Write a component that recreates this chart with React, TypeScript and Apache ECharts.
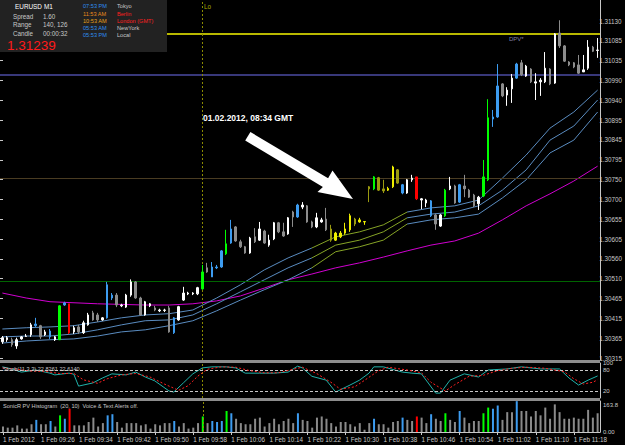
import React, { useEffect, useRef } from "react";
import * as echarts from "echarts";

const FONT = "'Liberation Sans', Arial, sans-serif";

const times = [
  "09:18","09:19","09:20","09:21","09:22","09:23","09:24","09:25","09:26","09:27","09:28","09:29","09:30","09:31","09:32","09:33","09:34","09:35","09:36","09:37","09:38","09:39","09:40","09:41","09:42","09:43","09:44","09:45","09:46","09:47","09:48","09:49","09:50","09:51","09:52","09:53","09:54","09:55","09:56","09:57","09:58","09:59",
  "10:00","10:01","10:02","10:03","10:04","10:05","10:06","10:07","10:08","10:09","10:10","10:11","10:12","10:13","10:14","10:15","10:16","10:17","10:18","10:19","10:20","10:21","10:22","10:23","10:24","10:25","10:26","10:27","10:28","10:29","10:30","10:31","10:32","10:33","10:34","10:35","10:36","10:37","10:38","10:39","10:40","10:41","10:42","10:43","10:44","10:45","10:46","10:47","10:48","10:49","10:50","10:51","10:52","10:53","10:54","10:55","10:56","10:57","10:58","10:59",
  "11:00","11:01","11:02","11:03","11:04","11:05","11:06","11:07","11:08","11:09","11:10","11:11","11:12","11:13","11:14","11:15","11:16","11:17","11:18","11:19","11:20","11:21","11:22","11:23"
];

// [open, close, low, high]
const candles = [
  [1.30354,1.30364,1.30349,1.30368],[1.30359,1.30364,1.30354,1.30368],[1.30359,1.30347,1.30342,1.30364],[1.30344,1.30359,1.30337,1.30364],
  [1.30361,1.30366,1.30359,1.30368],[1.30367,1.30368,1.30366,1.30373],[1.30371,1.30395,1.30366,1.30400],[1.30393,1.30397,1.30390,1.30412],
  [1.30393,1.30366,1.30361,1.30395],[1.30371,1.30378,1.30368,1.30383],[1.30380,1.30366,1.30361,1.30385],[1.30359,1.30366,1.30356,1.30368],
  [1.30359,1.30441,1.30359,1.30443],[1.30443,1.30448,1.30441,1.30451],[1.30446,1.30376,1.30373,1.30446],[1.30378,1.30388,1.30373,1.30393],
  [1.30390,1.30378,1.30373,1.30395],[1.30376,1.30400,1.30373,1.30405],[1.30395,1.30419,1.30393,1.30424],[1.30424,1.30407,1.30405,1.30429],
  [1.30419,1.30407,1.30402,1.30424],[1.30407,1.30412,1.30405,1.30414],[1.30412,1.30492,1.30410,1.30499],[1.30460,1.30467,1.30455,1.30472],
  [1.30467,1.30443,1.30438,1.30472],[1.30441,1.30443,1.30438,1.30446],[1.30438,1.30467,1.30436,1.30470],[1.30467,1.30499,1.30463,1.30505],
  [1.30499,1.30460,1.30458,1.30501],[1.30460,1.30419,1.30417,1.30463],[1.30419,1.30451,1.30417,1.30453],[1.30441,1.30446,1.30438,1.30448],
  [1.30436,1.30431,1.30428,1.30441],[1.30431,1.30429,1.30426,1.30434],[1.30430,1.30431,1.30426,1.30434],[1.30436,1.30378,1.30376,1.30441],
  [1.30376,1.30412,1.30373,1.30414],[1.30407,1.30439,1.30405,1.30441],[1.30455,1.30472,1.30453,1.30487],[1.30472,1.30470,1.30467,1.30475],
  [1.30470,1.30472,1.30467,1.30474],[1.30470,1.30485,1.30467,1.30487],[1.30482,1.30523,1.30480,1.30540],[1.30533,1.30523,1.30521,1.30545],
  [1.30511,1.30535,1.30511,1.30547],[1.30533,1.30535,1.30530,1.30540],[1.30535,1.30574,1.30533,1.30576],[1.30567,1.30591,1.30564,1.30625],
  [1.30593,1.30627,1.30591,1.30649],[1.30632,1.30598,1.30596,1.30634],[1.30596,1.30584,1.30581,1.30601],[1.30584,1.30569,1.30567,1.30586],
  [1.30569,1.30605,1.30567,1.30608],[1.30608,1.30596,1.30593,1.30629],[1.30600,1.30627,1.30598,1.30644],[1.30622,1.30593,1.30591,1.30625],
  [1.30588,1.30600,1.30584,1.30613],[1.30603,1.30642,1.30600,1.30644],[1.30642,1.30620,1.30617,1.30644],[1.30620,1.30610,1.30608,1.30642],
  [1.30615,1.30654,1.30613,1.30656],[1.30668,1.30656,1.30632,1.30671],[1.30656,1.30685,1.30654,1.30688],[1.30680,1.30685,1.30675,1.30692],
  [1.30683,1.30644,1.30642,1.30685],[1.30644,1.30632,1.30629,1.30647],[1.30632,1.30654,1.30629,1.30666],[1.30644,1.30649,1.30642,1.30654],
  [1.30651,1.30625,1.30622,1.30678],[1.30627,1.30600,1.30596,1.30637],[1.30600,1.30617,1.30598,1.30620],[1.30608,1.30617,1.30605,1.30622],
  [1.30617,1.30627,1.30613,1.30642],[1.30625,1.30659,1.30620,1.30664],[1.30651,1.30639,1.30634,1.30654],[1.30644,1.30649,1.30642,1.30654],
  [1.30644,1.30645,1.30637,1.30645],[1.30729,1.30724,1.30692,1.30731],[1.30724,1.30753,1.30721,1.30755],[1.30751,1.30721,1.30719,1.30753],
  [1.30724,1.30719,1.30714,1.30746],[1.30721,1.30725,1.30719,1.30729],[1.30729,1.30777,1.30726,1.30780],[1.30770,1.30738,1.30736,1.30772],
  [1.30734,1.30714,1.30711,1.30736],[1.30714,1.30746,1.30712,1.30748],[1.30746,1.30750,1.30741,1.30758],[1.30753,1.30700,1.30697,1.30753],
  [1.30700,1.30697,1.30675,1.30702],[1.30690,1.30697,1.30680,1.30700],[1.30695,1.30659,1.30656,1.30697],[1.30661,1.30639,1.30625,1.30664],
  [1.30634,1.30661,1.30632,1.30663],[1.30659,1.30721,1.30656,1.30724],[1.30724,1.30731,1.30721,1.30753],[1.30731,1.30690,1.30688,1.30734],
  [1.30692,1.30734,1.30690,1.30736],[1.30731,1.30724,1.30704,1.30758],[1.30721,1.30704,1.30702,1.30724],[1.30709,1.30683,1.30680,1.30712],
  [1.30688,1.30704,1.30673,1.30707],[1.30707,1.30753,1.30704,1.30794],[1.30746,1.30896,1.30743,1.30941],[1.30893,1.30898,1.30874,1.30915],
  [1.30898,1.30973,1.30896,1.31026],[1.30978,1.30949,1.30946,1.30980],[1.30951,1.30963,1.30925,1.30970],[1.30966,1.30992,1.30932,1.31002],
  [1.30992,1.31026,1.30990,1.31029],[1.31029,1.31000,1.30997,1.31036],[1.30997,1.31021,1.30995,1.31024],[1.31014,1.30983,1.30980,1.31016],
  [1.30983,1.30980,1.30939,1.31004],[1.30983,1.30987,1.30949,1.30992],[1.30983,1.31016,1.30980,1.31055],[1.31014,1.30978,1.30975,1.31016],
  [1.30980,1.31099,1.30978,1.31101],[1.31101,1.31070,1.31065,1.31132],[1.31070,1.31033,1.31031,1.31072],[1.31031,1.31024,1.31021,1.31033],
  [1.31029,1.31019,1.31016,1.31031],[1.31024,1.31004,1.31002,1.31048],[1.31007,1.31012,1.31007,1.31048],[1.31016,1.31067,1.31012,1.31084],
  [1.31067,1.31057,1.31055,1.31070],[1.31060,1.31059,1.31041,1.31089]
];

// w white, g gray, b blue, G green, R red, y yellow, o olive
const candleColors = (
  "wwgwwwwbgwbwGbRwgwwggwbbgwwwggwwgwwgbwwwwwGgbbbGbgggwgwgwwggwgbwggwwgoyyyyoyyoGooyyobwwRwwbgwGwgbgggwGGbbgwwbgwgwwwgwgggggwwgw"
).split("");

const histValues = [
  29,23,23,35,18,18,41,64,41,41,58,29,88,70,123,35,35,35,53,76,
  29,47,88,94,53,23,47,47,47,35,41,18,41,35,47,47,58,29,47,18,
  23,47,82,47,58,53,58,111,99,70,47,41,41,70,76,29,47,70,41,58,
  70,47,99,64,58,23,76,82,70,47,29,53,53,41,29,47,12,47,70,41,
  41,23,53,58,76,64,58,82,76,47,94,70,58,99,64,53,111,76,47,58,
  58,99,129,123,140,64,105,105,163,111,111,82,111,88,129,70,146,105,70,70,
  76,70,70,117,76,99
];
const histColors = (
  "gggggggbggbgGbRgggggggbbggggggggggggbgggggGgbbbGbgggggggggggggbgggggggggggggggbgggggbggRggbggGggbggggGGbbgggbggggggggggggggggg"
).split("");

const priceTicks = ["1.30315","1.30365","1.30415","1.30465","1.30510","1.30560","1.30605","1.30655","1.30700","1.30750","1.30795","1.30845","1.30895","1.30940","1.30990","1.31035","1.31085","1.31130"];

const bandTop = [[0,1.30385],[5,1.30388],[10,1.30390],[15,1.30393],[20,1.30402],[25,1.30412],[30,1.30419],[35,1.30422],[40,1.30431],[45,1.30460],[50,1.30492],[55,1.30528],[60,1.30557],[65,1.30581],[70,1.30608],[75,1.30620],[80,1.30637],[85,1.30668],[90,1.30678],[95,1.30683],[100,1.30697],[105,1.30750],[110,1.30806],[115,1.30871],[120,1.30910],[125,1.30963]];
const bandMid = [[0,1.30366],[5,1.30368],[10,1.30368],[15,1.30373],[20,1.30383],[25,1.30395],[30,1.30405],[35,1.30407],[40,1.30419],[45,1.30446],[50,1.30475],[55,1.30504],[60,1.30533],[65,1.30557],[70,1.30588],[75,1.30600],[80,1.30620],[85,1.30654],[90,1.30663],[95,1.30668],[100,1.30683],[105,1.30721],[110,1.30770],[115,1.30842],[120,1.30876],[125,1.30939]];
const bandLow = [[0,1.30351],[5,1.30356],[10,1.30359],[15,1.30361],[20,1.30368],[25,1.30378],[30,1.30383],[35,1.30393],[40,1.30405],[45,1.30429],[50,1.30455],[55,1.30480],[60,1.30504],[65,1.30533],[70,1.30572],[75,1.30584],[80,1.30600],[85,1.30639],[90,1.30649],[95,1.30654],[100,1.30663],[105,1.30702],[110,1.30746],[115,1.30811],[120,1.30842],[125,1.30910]];
const slowMA = [[0,1.30472],[5,1.30460],[10,1.30451],[20,1.30446],[30,1.30443],[35,1.30443],[40,1.30446],[45,1.30453],[50,1.30465],[55,1.30484],[60,1.30504],[65,1.30518],[70,1.30533],[75,1.30545],[80,1.30559],[85,1.30574],[90,1.30588],[95,1.30598],[100,1.30617],[105,1.30649],[110,1.30683],[115,1.30712],[120,1.30743],[125,1.30779]];

const stochK = [[0,89],[2,83],[4,74],[7,80],[10,71],[11,66],[14,71],[15,68],[16,34],[19,43],[21,57],[23,69],[26,66],[28,74],[30,60],[32,49],[35,20],[36,17],[38,43],[40,69],[42,86],[44,89],[47,89],[49,86],[51,71],[54,71],[57,71],[60,74],[62,91],[63,86],[65,62],[68,51],[70,17],[73,37],[75,51],[77,71],[78,89],[80,89],[84,74],[86,71],[88,69],[91,14],[92,14],[94,51],[97,69],[100,60],[102,80],[106,83],[109,89],[113,83],[117,83],[119,57],[121,37],[123,51],[125,63]];
const stochD = [[0,86],[3,82],[6,77],[9,76],[12,70],[15,70],[17,52],[20,42],[22,55],[25,66],[28,70],[31,60],[34,40],[37,22],[39,35],[41,62],[43,82],[46,89],[49,88],[52,78],[55,72],[58,72],[61,82],[63,88],[66,70],[69,45],[71,25],[74,32],[76,50],[79,78],[81,88],[85,80],[88,72],[90,45],[93,20],[95,38],[98,62],[101,65],[104,78],[107,85],[110,88],[114,85],[118,75],[120,55],[122,40],[124,45],[125,52]];

const levelLines = [
  { price: 1.311, color: "#b8b800", width: 2 },
  { price: 1.31, color: "#38387a", width: 2 },
  { price: 1.3075, color: "#4a3c22", width: 1 },
  { price: 1.305, color: "#006400", width: 1 },
];

const COLORS: Record<string, string> = {
  w: "#ffffff", g: "#8c8c8c", b: "#3d9cf0", G: "#00ff00", R: "#ff0000", y: "#eeee00", o: "#9a9a10",
};
const BLUE = "#5a8cc0";
const OLIVE = "#86a426";
const LABEL = "#c8c8c8";

function buildOption() {
  const candleData = candles.map((c, i) => {
    const col = COLORS[candleColors[i]] || COLORS.w;
    return { value: c, itemStyle: { color: col, color0: col, borderColor: col, borderColor0: col, borderWidth: 1 } };
  });
  const histData = histValues.map((v, i) => ({ value: v, itemStyle: { color: histColors[i] === "g" ? "#8a8a8a" : COLORS[histColors[i]] } }));

  const bandSeries: any[] = [];
  [bandTop, bandMid, bandLow].forEach((band) => {
    bandSeries.push({ type: "line", xAxisIndex: 0, yAxisIndex: 0, data: band.filter((p) => p[0] <= 65), symbol: "none", lineStyle: { color: BLUE, width: 1 }, silent: true, z: 3 });
    bandSeries.push({ type: "line", xAxisIndex: 0, yAxisIndex: 0, data: band.filter((p) => p[0] >= 65 && p[0] <= 85), symbol: "none", lineStyle: { color: OLIVE, width: 1 }, silent: true, z: 3 });
    bandSeries.push({ type: "line", xAxisIndex: 0, yAxisIndex: 0, data: band.filter((p) => p[0] >= 85), symbol: "none", lineStyle: { color: BLUE, width: 1 }, silent: true, z: 3 });
  });

  const txt = (x: number, y: number, text: string, fill: string, size: number, extra: any = {}) => ({
    type: "text", x, y, z: 110,
    style: { text, fill, font: `${extra.weight || "normal"} ${size}px ${FONT}`, textVerticalAlign: "middle", textAlign: extra.align || "left" },
  });

  return {
    animation: false,
    backgroundColor: "#000000",
    textStyle: { fontFamily: FONT },
    grid: [
      { left: -1, right: 25, top: 0, height: 360 },
      { left: -1, right: 25, top: 21, height: 337 },
      { left: -1, right: 25, top: 363, height: 35 },
      { left: -1, right: 25, top: 401, height: 31 },
    ],
    xAxis: [
      { gridIndex: 0, type: "category", data: times, boundaryGap: true, axisLine: { show: false }, axisTick: { show: false }, axisLabel: { show: false }, splitLine: { show: false } },
      { gridIndex: 1, type: "value", show: false },
      { gridIndex: 2, type: "category", data: times, boundaryGap: true, axisLine: { show: false }, axisTick: { show: false }, axisLabel: { show: false } },
      {
        gridIndex: 3, type: "category", data: times, boundaryGap: true,
        axisLine: { show: true, lineStyle: { color: LABEL, width: 1 } },
        axisTick: { show: true, interval: 7, alignWithLabel: true, length: 3, lineStyle: { color: LABEL } },
        axisLabel: {
          interval: 7, color: LABEL, fontSize: 6.3, fontFamily: FONT, align: "left", margin: 4,
          formatter: (v: string, idx: number) => (idx === 0 ? "1 Feb 2012" : "1 Feb " + v),
        },
      },
    ],
    yAxis: [
      { gridIndex: 0, type: "value", min: 1.3031, max: 1.31181, position: "right", axisLine: { show: true, lineStyle: { color: LABEL } }, axisTick: { show: false }, axisLabel: { show: false }, splitLine: { show: false } },
      {
        gridIndex: 1, type: "category", data: priceTicks, boundaryGap: false, position: "right",
        axisLine: { show: false }, axisTick: { show: true, interval: 0, length: 3, lineStyle: { color: LABEL } },
        axisLabel: { interval: 0, color: LABEL, fontSize: 6.3, fontFamily: FONT, margin: 3 },
        splitLine: { show: false },
      },
      {
        gridIndex: 2, type: "value", min: 0, max: 100, interval: 20, position: "right",
        axisLine: { show: true, lineStyle: { color: LABEL } }, axisTick: { show: false }, splitLine: { show: false },
        axisLabel: {
          color: LABEL, fontSize: 6, margin: 3,
          formatter: (v: number) => (v === 40 || v === 60 ? "" : v === 0 ? "{lo|0}" : String(v)),
          rich: { lo: { fontSize: 6, color: LABEL, padding: [0, 0, 6, 0] } },
        },
      },
      {
        gridIndex: 3, type: "value", min: 0, max: 163.8, interval: 163.8, position: "right",
        axisLine: { show: true, lineStyle: { color: LABEL } }, axisTick: { show: false }, splitLine: { show: false },
        axisLabel: {
          color: LABEL, fontSize: 6, margin: 3,
          formatter: (v: number) => (v === 0 ? "0.00" : "{hi|163.8}"),
          rich: { hi: { fontSize: 6, color: LABEL, padding: [7, 0, 0, 0] } },
        },
      },
    ],
    series: [
      {
        type: "line", xAxisIndex: 0, yAxisIndex: 0, data: slowMA, symbol: "none",
        lineStyle: { color: "#d000d0", width: 1 }, silent: true, z: 2,
      },
      ...bandSeries,
      {
        type: "candlestick", xAxisIndex: 0, yAxisIndex: 0, data: candleData, barWidth: 2, z: 5,
        markLine: {
          silent: true, symbol: ["none", "none"], label: { show: false }, precision: 6,
          data: [
            ...levelLines.map((l) => ({ yAxis: l.price, lineStyle: { color: l.color, width: l.width, type: "solid" } })),
            { xAxis: "10:00", lineStyle: { color: "#8a8a00", type: [2, 2], width: 1 } },
          ],
        },
      },
      {
        type: "line", xAxisIndex: 2, yAxisIndex: 2, data: stochK, symbol: "none",
        lineStyle: { color: "#20b2aa", width: 1 }, z: 4,
        markLine: {
          silent: true, symbol: ["none", "none"], label: { show: false }, precision: 4,
          data: [
            { yAxis: 20, lineStyle: { color: LABEL, type: [3, 2], width: 1 } },
            { yAxis: 80, lineStyle: { color: LABEL, type: [3, 2], width: 1 } },
            { xAxis: "10:00", lineStyle: { color: "#8a8a00", type: [2, 2], width: 1 } },
          ],
        },
      },
      {
        type: "line", xAxisIndex: 2, yAxisIndex: 2, data: stochD, symbol: "none",
        lineStyle: { color: "#ff2020", width: 1, type: [2, 2] }, z: 5,
      },
      {
        type: "bar", xAxisIndex: 3, yAxisIndex: 3, data: histData, barWidth: 2,
        markLine: {
          silent: true, symbol: ["none", "none"], label: { show: false },
          lineStyle: { color: "#8a8a00", type: [2, 2], width: 1 },
          data: [{ xAxis: "10:00" }],
        },
      },
    ],
    graphic: [
      { type: "rect", z: 100, shape: { x: 0, y: 360, width: 600, height: 3 }, style: { fill: "#8c8c8c" } },
      { type: "rect", z: 100, shape: { x: 0, y: 398, width: 600, height: 3 }, style: { fill: "#8c8c8c" } },
      { type: "rect", z: 100, shape: { x: 0, y: 0, width: 167, height: 52 }, style: { fill: "#222222" } },
      txt(15, 6.5, "EURUSD", "#ffffff", 6.4),
      txt(44, 6.5, "M1", "#ffffff", 6.4),
      txt(13, 16, "Spread", LABEL, 6.3), txt(43, 16, "1.60", LABEL, 6.3),
      txt(13, 24.8, "Range", LABEL, 6.3), txt(43, 24.8, "140, 126", LABEL, 6.3),
      txt(13, 33.5, "Candle", LABEL, 6.3), txt(43, 33.5, "00:00:32", LABEL, 6.3),
      txt(7, 45, "1.31239", "#ff1a1a", 13.5),
      txt(83, 6, "07:53 PM", "#2e8ef0", 5.6), txt(117, 6, "Tokyo", LABEL, 5.6),
      txt(83, 13.5, "11:53 AM", "#e88a1a", 5.6), txt(117, 13.5, "Berlin", "#ff2020", 5.6),
      txt(83, 20.7, "10:53 AM", "#e8a01a", 5.6), txt(117, 20.7, "London (GMT)", "#ff2020", 5.6),
      txt(83, 27.9, "05:53 AM", "#2e8ef0", 5.6), txt(117, 27.9, "NewYork", LABEL, 5.6),
      txt(83, 34.8, "05:53 PM", "#2e8ef0", 5.6), txt(117, 34.8, "Local", LABEL, 5.6),
      txt(204, 6, "Lo", "#a8a800", 6.3),
      txt(509, 38.5, "DPV*", "#8282a8", 6),
      txt(203, 118, "01.02.2012, 08:34 GMT", "#ffffff", 8.5, { weight: "bold" }),
      txt(3, 369, "Stoch(11,3,3) 22.8261 22.6140", LABEL, 5.6),
      txt(3, 406, "SonicR PV Histogram  (20, 10)  Voice & Text Alerts off.", LABEL, 5.6),
      {
        type: "polygon", z: 105,
        shape: { points: [[250.4, 132.0], [328.1, 178.3], [332.5, 170.5], [353, 199], [317.5, 192], [322.9, 186.9], [245.2, 140.6]] },
        style: { fill: "#ffffff" },
      },
    ],
  };
}

export default function App() {
  const ref = useRef<HTMLDivElement>(null);
  useEffect(() => {
    if (!ref.current) return;
    const chart = echarts.init(ref.current, null, { renderer: "svg" });
    chart.setOption(buildOption() as any);
    return () => chart.dispose();
  }, []);
  return (
    <div
      ref={ref}
      style={{ position: "fixed", left: 0, top: 0, width: 625, height: 445, background: "#000" }}
    />
  );
}
